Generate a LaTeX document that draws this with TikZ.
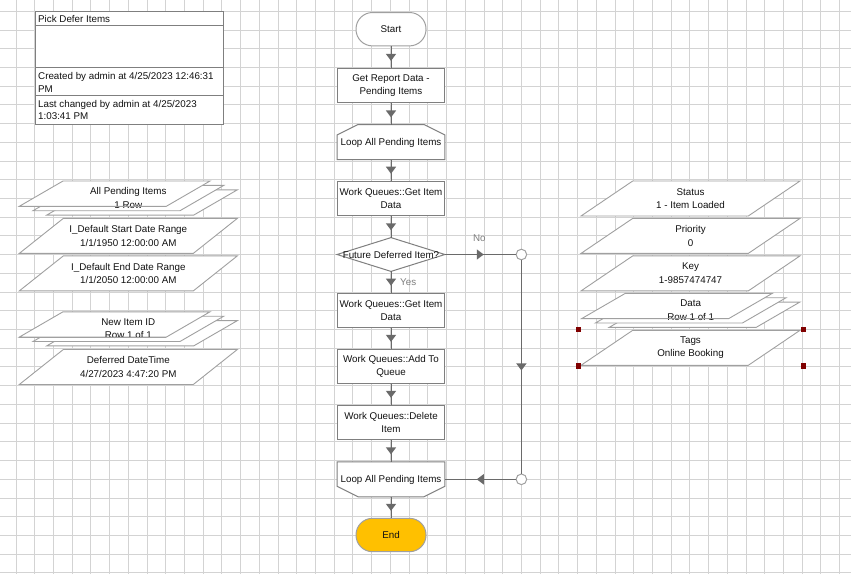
\documentclass[tikz,border=0pt]{standalone}
\usepackage{fontspec}
\setmainfont{Liberation Sans}
\usetikzlibrary{calc,decorations.markings}
\definecolor{gridc}{HTML}{D3D3D3}
\definecolor{edge}{HTML}{7F7F7F}
\definecolor{soft}{HTML}{A0A0A0}
\definecolor{wire}{HTML}{6A6A6A}
\definecolor{amber}{HTML}{FFC000}
\definecolor{handle}{HTML}{800000}
\definecolor{ink}{HTML}{111111}
\newcommand{\flowfont}{\fontsize{9.8}{13.5}\selectfont}
\tikzset{
 gridline/.style={gridc,line width=1pt},
 box/.style={draw=edge,fill=white,line width=1pt,minimum width=107.4pt,minimum height=34pt,inner sep=1pt,align=center,text=ink},
 term/.style={draw=soft,fill=white,line width=1pt,rounded corners=16.5pt,minimum width=70pt,minimum height=33.4pt,text=ink},
 hold/.style={minimum width=107.4pt,minimum height=34.6pt,inner sep=0pt},
 itemline/.style={draw=soft,fill=white,line width=0.9pt},
 itemtext/.style={align=center,text=ink},
 wireline/.style={wire,line width=1pt,postaction={decorate},decoration={markings,mark=at position 0.5 with {\fill[wire] (3.5pt,0pt) -- (-3.5pt,5.2pt) -- (-3.5pt,-5.2pt) -- cycle;}}},
 joint/.style={circle,draw=soft,fill=white,line width=1pt,minimum size=10.6pt,inner sep=0pt},
 tag/.style={text=edge},
 infotext/.style={anchor=west,inner sep=0pt,align=left,text=ink,font=\fontsize{9.8}{12.7}\selectfont},
}
\newcommand{\dataitem}[7]{% name, left, top, skew, width, height, text
 \draw[itemline] (#2+#4,#3) -- ++(#5,0) -- ++(-#4,#6) -- ++(-#5,0) -- cycle;
 \node[itemtext] (#1) at ({#2+(#4+#5)/2},{#3+#6/2}) {#7};
}
\newcommand{\dataset}[4]{% name, left, top, text
 \foreach \k in {2,1,0} \draw[itemline] ({#2+43.7+13.7*\k},{#3+4.4*\k}) -- ++(147,0) -- ++(-43.7,25.3) -- ++(-147,0) -- cycle;
 \node[itemtext] (#1) at ({#2+109},{#3+17}) {#4};
 \draw[soft,line width=0.9pt] (#2,#3+25.3) -- ++(147,0);
}

\begin{document}
\begin{tikzpicture}[x=1pt,y=-1pt,font=\flowfont]
\useasboundingbox[fill=white] (0,0) rectangle (851,574);
\foreach \k in {0,...,44} \draw[gridline] ({16+18.72*\k},0) -- ++(0,574);
\foreach \k in {0,...,30} \draw[gridline] (0,{11.3+18.72*\k}) -- ++(851,0);

% process info
\draw[edge,fill=white,line width=1pt] (35.3,11.7) rectangle (223.3,124);
\draw[edge,line width=1pt] (35.3,25) -- (223.3,25) (35.3,67.3) -- (223.3,67.3) (35.3,95.7) -- (223.3,95.7);
\node[infotext] (title) at (38,19.4) {Pick Defer Items};
\node[infotext] (created) at (38,82.2) {Created by admin at 4/25/2023 12:46:31\\PM};
\node[infotext] (changed) at (38,110) {Last changed by admin at 4/25/2023\\1:03:41 PM};

% main flow
\node[term] (start) at (391,29.2) {Start};
\node[box] (report) at (391,85.8) {Get Report Data -\\Pending Items};
\node[hold] (loopin) at (391,142) {};
\draw[edge,fill=white,line width=1pt] (loopin.south west) -- ($(loopin.north west)+(0,10.5)$) -- ($(loopin.north west)+(21,0)$) -- ($(loopin.north east)+(-21,0)$) -- ($(loopin.north east)+(0,10.5)$) -- (loopin.south east) -- cycle;
\node[itemtext] at ($(loopin)+(0,1)$) {Loop All Pending Items};
\node[box] (fetch) at (391,198.4) {Work Queues::Get Item\\Data};
\node[hold,minimum height=33.4pt] (test) at (391,254.5) {};
\draw[edge,fill=white,line width=1pt] (test.north) -- (test.east) -- (test.south) -- (test.west) -- cycle;
\node[itemtext] at (test) {Future Deferred Item?};
\node[box] (fetchb) at (391,310.3) {Work Queues::Get Item\\Data};
\node[box] (addq) at (391,366.3) {Work Queues::Add To\\Queue};
\node[box] (delq) at (391,422.3) {Work Queues::Delete\\Item};
\node[hold] (loopout) at (391,479.3) {};
\draw[edge,fill=white,line width=1pt] (loopout.north west) -- ($(loopout.south west)+(0,-10.5)$) -- ($(loopout.south west)+(21,0)$) -- ($(loopout.south east)+(-21,0)$) -- ($(loopout.south east)+(0,-10.5)$) -- (loopout.north east) -- cycle;
\node[itemtext] at ($(loopout)+(0,0.5)$) {Loop All Pending Items};
\node[term,fill=amber] (finish) at (391,535) {End};
\node[joint] (joina) at (521.4,254.5) {};
\node[joint] (joinb) at (521.4,479.3) {};

\foreach \a/\b in {start/report,report/loopin,loopin/fetch,fetch/test,test/fetchb,fetchb/addq,addq/delq,delq/loopout,loopout/finish} \draw[wireline] (\a) -- (\b);
\draw[wireline] (test.east) -- (joina);
\draw[wireline] (joina) -- (joinb);
\draw[wireline] (joinb) -- (loopout.east);
\node[tag] (no) at (479.3,237.7) {No};
\node[tag,anchor=west,inner sep=0pt] (yes) at (400,281.7) {Yes};

% data items
\dataset{pending}{19.3}{181}{All Pending Items\\1 Row}
\dataitem{startrange}{19.3}{218.4}{44}{174}{35}{I\_Default Start Date Range\\1/1/1950 12:00:00 AM}
\dataitem{endrange}{19.3}{255.9}{44}{174}{35}{I\_Default End Date Range\\1/1/2050 12:00:00 AM}
\dataset{newid}{19.3}{311.8}{New Item ID\\Row 1 of 1}
\dataitem{deferred}{19.3}{349.5}{44}{174}{35}{Deferred DateTime\\4/27/2023 4:47:20 PM}
\dataitem{status}{581}{181}{51.7}{167.3}{35}{Status\\1 - Item Loaded}
\dataitem{priority}{581}{218.4}{51.7}{167.3}{35}{Priority\\0}
\dataitem{key}{581}{255.9}{51.7}{167.3}{35}{Key\\1-9857474747}
\dataset{data}{581.7}{293.3}{Data\\Row 1 of 1}
\dataitem{tags}{581}{330.3}{51.7}{167.3}{35}{Tags\\Online Booking}
\foreach \p in {(578.5,329.5),(803.5,329.5),(578.5,366),(803.5,366)} \fill[handle] \p ++(-2.7,-2.7) rectangle ++(5.4,5.4);
\end{tikzpicture}
\end{document}
